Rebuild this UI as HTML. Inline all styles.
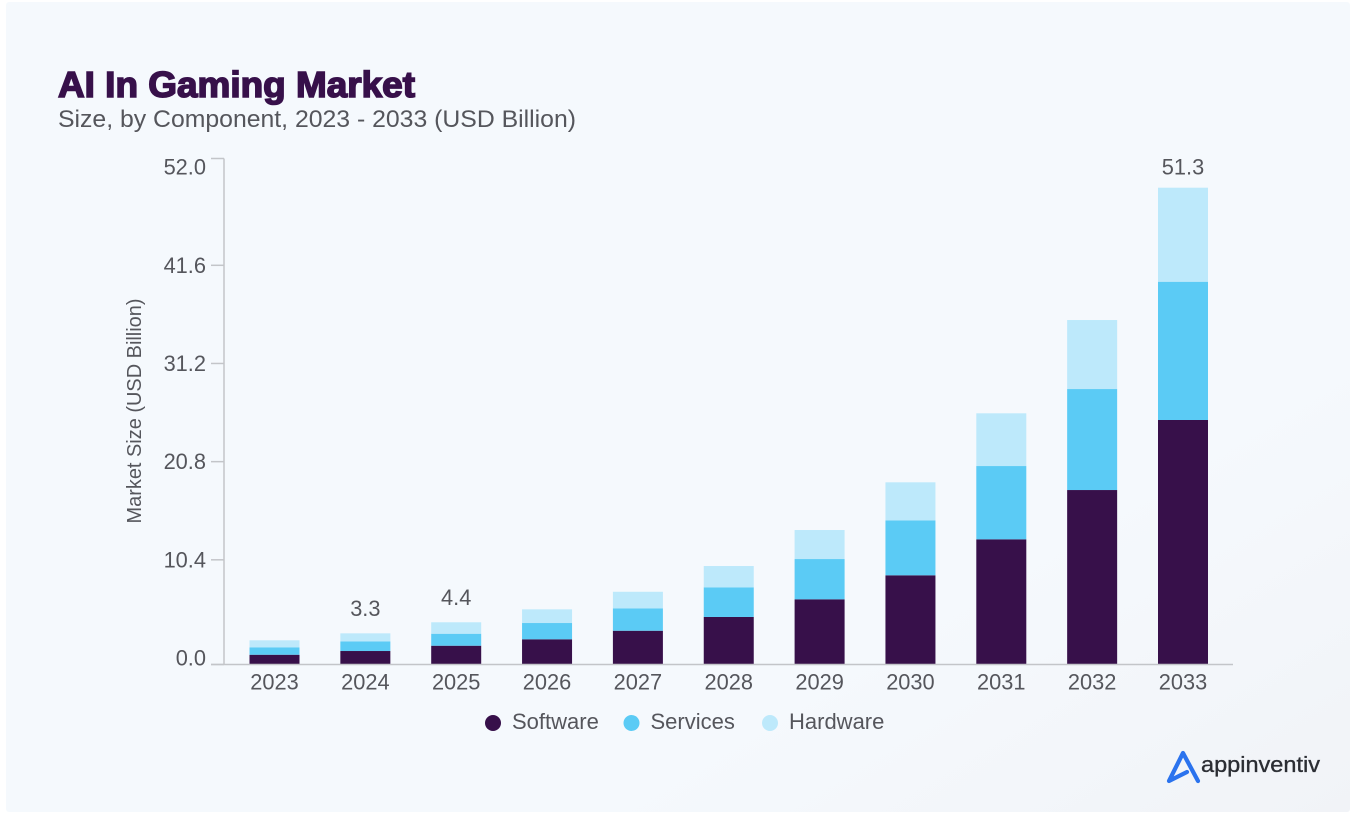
<!DOCTYPE html>
<html lang="en">
<head>
<meta charset="utf-8">
<title>AI In Gaming Market</title>
<style>
html,body{margin:0;padding:0;background:#fff;width:1352px;height:824px;overflow:hidden}
svg{display:block}
text{font-family:"Liberation Sans",sans-serif;fill:#55565c}
</style>
</head>
<body>
<svg id="chart" width="1352" height="824" viewBox="0 0 1352 824" xmlns="http://www.w3.org/2000/svg">
  <defs>
    <linearGradient id="panelFill" x1="0" y1="0" x2="1" y2="1">
      <stop offset="0" stop-color="#f5f9fd"/>
      <stop offset="0.72" stop-color="#f5f9fd"/>
      <stop offset="1" stop-color="#f1f3f7"/>
    </linearGradient>
  </defs>
  <rect x="6" y="2" width="1344" height="810" rx="3" fill="url(#panelFill)"/>
  <text x="58" y="97" font-size="36" font-weight="700" textLength="357" lengthAdjust="spacingAndGlyphs" style="fill:#37104a;stroke:#37104a;stroke-width:1.6px">AI In Gaming Market</text>
  <text x="58" y="127" font-size="24.5" textLength="518" lengthAdjust="spacingAndGlyphs">Size, by Component, 2023 - 2033 (USD Billion)</text>
  <text transform="translate(141 411) rotate(-90)" text-anchor="middle" font-size="20.5" textLength="225" lengthAdjust="spacingAndGlyphs">Market Size (USD Billion)</text>
  <g id="yAxis"></g>
  <g id="bars"></g>
  <g id="xAxis"></g>
  <g id="legend"></g>
  <g>
    <path d="M1198 781 L1183 753 L1169 781 L1187 772" fill="none" stroke="#2b73ee" stroke-width="4.2" stroke-linecap="round" stroke-linejoin="round"/>
    <text x="1201" y="772" font-size="22.5" textLength="119" lengthAdjust="spacingAndGlyphs" style="fill:#2b2d33;stroke:#2b2d33;stroke-width:0.35px">appinventiv</text>
  </g>
</svg>
<script>
const categories = ['2023','2024','2025','2026','2027','2028','2029','2030','2031','2032','2033'];
const software = [1.05,1.45,2.02,2.71,3.63,5.11,7.01,9.59,13.46,18.76,26.29];
const services = [0.80,1.04,1.29,1.75,2.41,3.19,4.33,5.91,7.88,10.86,14.87];
const hardware = [0.75,0.86,1.23,1.47,1.78,2.29,3.12,4.09,5.67,7.42,10.11];
const yTickValues = [0,10.4,20.8,31.2,41.6,52];
const yTickLabels = ['0.0','10.4','20.8','31.2','41.6','52.0'];
const printedTotals = ['', '3.3', '4.4', '', '', '', '', '', '', '', '51.3'];
const seriesNames = ['Software','Services','Hardware'];

const NS = 'http://www.w3.org/2000/svg';
const seriesData = [software, services, hardware];
const seriesColors = ['#37104a', '#5bcbf5', '#bde9fb'];

/* axis functions */
const baseY = 664.5, axisTopY = 158.5, axisX = 224;
const firstCenter = 274.5, step = 90.85, barW = 50;
function xPos(i) { return firstCenter + i * step; }
function yPos(v) { return baseY - v * 9.3; }
function tickLabelY(v) { return 658 - v * 9.44; }
function tickMarkY(v) {
  if (v === yTickValues[0]) return baseY;
  if (v === yTickValues[yTickValues.length - 1]) return axisTopY;
  return tickLabelY(v);
}
function make(tag, attrs, parent, content) {
  const el = document.createElementNS(NS, tag);
  for (const k in attrs) el.setAttribute(k, attrs[k]);
  if (content !== undefined) el.textContent = content;
  parent.appendChild(el);
  return el;
}

const yAxis = document.getElementById('yAxis');
const bars = document.getElementById('bars');
const xAxis = document.getElementById('xAxis');
const legend = document.getElementById('legend');

/* y axis */
const yLine = make('line', {x1: axisX, x2: axisX, y1: axisTopY, y2: baseY, stroke: '#c3c5c9', 'stroke-width': 1.5}, yAxis);


yTickValues.forEach(function (v, i) {
  const t = make('line', {x1: 211, x2: axisX, y1: tickMarkY(v), y2: tickMarkY(v), stroke: '#c3c5c9', 'stroke-width': 1.5}, yAxis);
  
  
  const l = make('text', {x: 206, y: tickLabelY(v) + 7.5, 'text-anchor': 'end', 'font-size': 21.8}, yAxis, yTickLabels[i]);
  
  
});

/* bars */
categories.forEach(function (cat, i) {
  let sum = 0;
  seriesData.forEach(function (values, s) {
    const y0 = yPos(sum), y1 = yPos(sum + values[i]);
    sum += values[i];
    const r = make('rect', {x: xPos(i) - barW / 2, y: y1, width: barW, height: y0 - y1, fill: seriesColors[s]}, bars);
    
    
  });
  if (printedTotals[i]) {
    const ly = Math.max(yPos(sum) - 25, 167) + 7.5;
    const v = make('text', {x: xPos(i), y: ly, 'text-anchor': 'middle', 'font-size': 21.8}, bars, printedTotals[i]);
    
    
  }
  const c = make('text', {x: xPos(i), y: 689.5, 'text-anchor': 'middle', 'font-size': 21.8}, xAxis, cat);
  
  
});

/* x axis */
const xLine = make('line', {x1: 211, x2: 1233, y1: baseY, y2: baseY, stroke: '#c3c5c9', 'stroke-width': 1.5}, xAxis);



/* legend */
seriesNames.forEach(function (name, s) {
  const cx = 493 + s * 138.5;
  const g = make('g', {}, legend);
  
  
  const d = make('circle', {cx: cx, cy: 723, r: 8, fill: seriesColors[s]}, g);
  
  
  const t = make('text', {x: cx + 19, y: 729, 'font-size': 22}, g, name);
  
  
});
</script>
</body>
</html>
